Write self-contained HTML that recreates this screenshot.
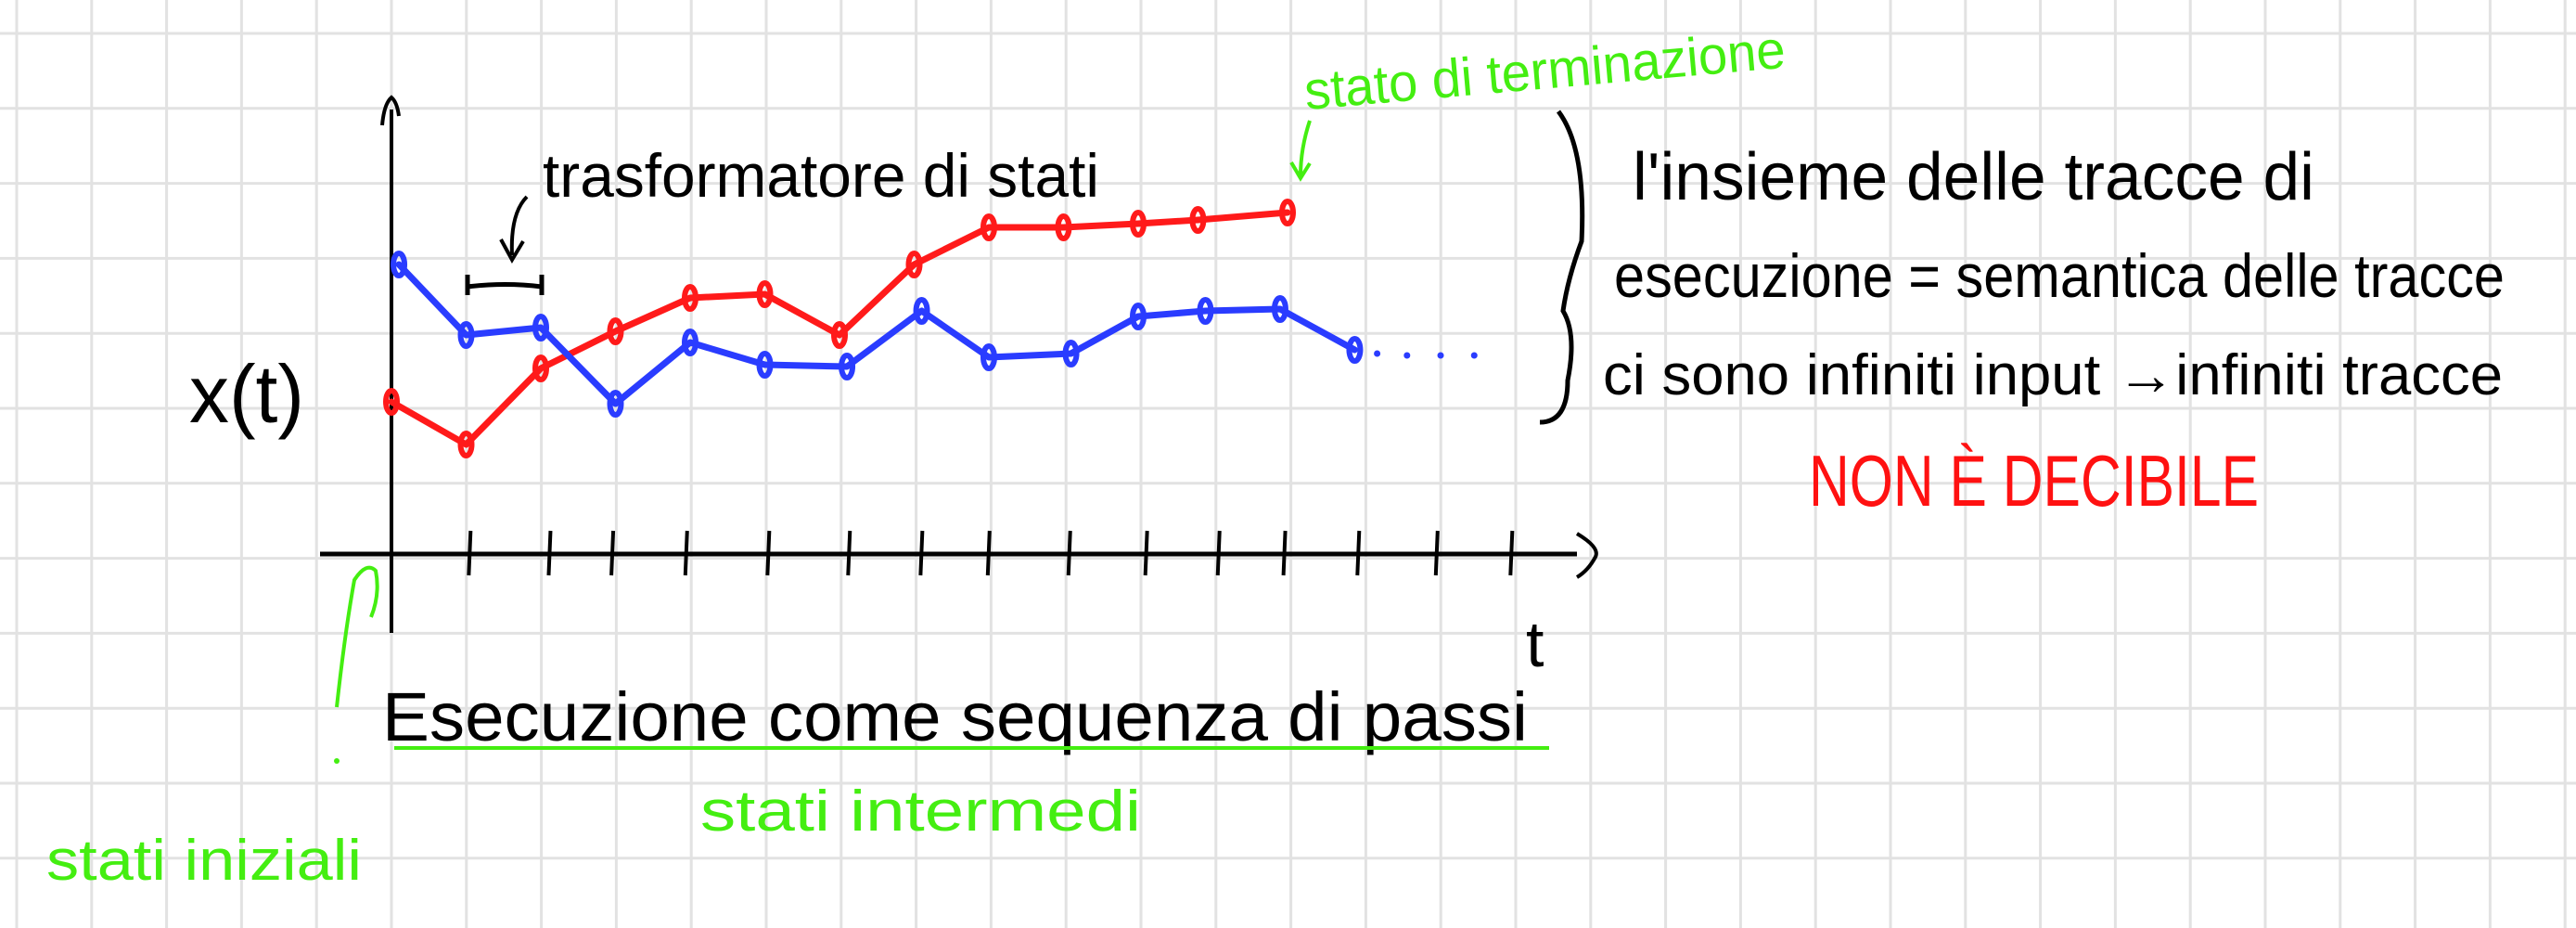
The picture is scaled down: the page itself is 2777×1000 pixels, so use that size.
<!DOCTYPE html>
<html><head><meta charset="utf-8"><style>
html,body{margin:0;padding:0;background:#fff}
svg{display:block}
text{font-family:"Liberation Sans Narrow","Liberation Sans",sans-serif}
</style></head><body>
<svg id="s" width="2777" height="1000" viewBox="0 0 2777 1000" xmlns="http://www.w3.org/2000/svg">
<g id="grid"></g>
<g id="chart">
  <line x1="422" y1="118" x2="422" y2="682" stroke="#000" stroke-width="4"/>
  <path d="M412 135 Q414 112 422 105 Q428 110 430 125" fill="none" stroke="#000" stroke-width="4"/>
  <line x1="345" y1="597" x2="1700" y2="597" stroke="#000" stroke-width="5"/>
  <path d="M1700 575 Q1725 590 1720 600 Q1712 615 1700 622" fill="none" stroke="#000" stroke-width="4"/>
  <g id="ticks"></g>
  <g id="series"></g>
  <text x="204" y="455" font-size="88" textLength="124" lengthAdjust="spacingAndGlyphs">x(t)</text>
  <text x="1645" y="718" font-size="70">t</text>
</g>
<g>
  <text x="585" y="212" font-size="66" textLength="600" lengthAdjust="spacingAndGlyphs">trasformatore di stati</text>
  <path d="M568 212 Q550 230 552 275 M540 258 L552 280 L564 260" fill="none" stroke="#000" stroke-width="4"/>
  <path d="M504 296 L504 318 M504 309 Q545 304 584 309 M584 296 L584 318" fill="none" stroke="#000" stroke-width="5"/>
  <text x="1408" y="118" font-size="58" fill="#44ee11" textLength="520" lengthAdjust="spacingAndGlyphs" transform="rotate(-5 1408 118)">stato di terminazione</text>
  <path d="M1412 130 Q1402 160 1402 190 M1392 175 L1402 192 L1412 176" fill="none" stroke="#44ee11" stroke-width="4"/>
  <path d="M1680 120 Q1710 160 1705 260 Q1690 300 1685 335 Q1700 360 1690 410 Q1690 455 1660 455" fill="none" stroke="#000" stroke-width="5"/>
  <text x="1760" y="215" font-size="72" textLength="735" lengthAdjust="spacingAndGlyphs">l'insieme delle tracce di</text>
  <text x="1740" y="320" font-size="66" textLength="960" lengthAdjust="spacingAndGlyphs">esecuzione = semantica delle tracce</text>
  <text x="1728" y="425" font-size="62" textLength="970" lengthAdjust="spacingAndGlyphs">ci sono infiniti input →infiniti tracce</text>
  <text x="1950" y="545" font-size="78" fill="#ff1111" textLength="485" lengthAdjust="spacingAndGlyphs">NON È DECIBILE</text>
  <text x="412" y="798" font-size="74" textLength="1235" lengthAdjust="spacingAndGlyphs">Esecuzione come sequenza di passi</text>
  <line x1="425" y1="806" x2="1670" y2="806" stroke="#44ee11" stroke-width="4"/>
  <text x="755" y="895" font-size="62" fill="#44ee11" textLength="475" lengthAdjust="spacingAndGlyphs">stati intermedi</text>
  <text x="50" y="948" font-size="62" fill="#44ee11" textLength="340" lengthAdjust="spacingAndGlyphs">stati iniziali</text>
  <path d="M363 762 Q372 680 382 625 Q395 605 405 615 Q410 640 400 665" fill="none" stroke="#44ee11" stroke-width="4"/>
  <circle cx="363" cy="820" r="3" fill="#44ee11"/>
</g>
</svg>
<script>
const tickT = [1.06,2.13,2.97,3.96,5.06,6.14,7.11,8.01,9.09,10.12,11.09,11.97,12.96,14.01,15.01];
const redT = [0,1,2,3,4,5,6,7,8,9,10,10.8,12];
const redV = [4.1,2.95,5.0,6.0,6.9,7.0,5.9,7.8,8.8,8.8,8.9,9.0,9.2];
const blueT = [0.1,1,2,3,4,5,6.1,7.1,8,9.1,10,10.9,11.9,12.9];
const blueV = [7.8,5.9,6.1,4.05,5.7,5.1,5.05,6.55,5.3,5.4,6.4,6.55,6.6,5.5];
const dotsT = [13.2,13.6,14.05,14.5];
const dotsV = [5.4,5.35,5.35,5.35];
const NS='http://www.w3.org/2000/svg';
const xS=t=>422+t*80.5, yS=v=>597-v*40;
function mk(tag,attrs,parent){const e=document.createElementNS(NS,tag);for(const k in attrs)e.setAttribute(k,attrs[k]);parent.appendChild(e);return e;}
const grid=document.getElementById('grid');
for(let x=18;x<2777;x+=80.8){const l=mk('line',{x1:x,y1:0,x2:x,y2:1000,stroke:'#e2e2e2','stroke-width':3},grid);

}
for(let y=36;y<1000;y+=80.8){const l=mk('line',{x1:0,y1:y,x2:2777,y2:y,stroke:'#e2e2e2','stroke-width':3},grid);

}
const ticks=document.getElementById('ticks');
tickT.forEach(t=>{const l=mk('line',{x1:xS(t),y1:572,x2:xS(t)-2,y2:620,stroke:'#000','stroke-width':4},ticks);

});
const ser=document.getElementById('series');
function series(T,V,color,name){
  const pts=T.map((t,i)=>xS(t)+','+yS(V[i])).join(' ');
  const pl=mk('polyline',{points:pts,fill:'none',stroke:color,'stroke-width':7,'stroke-linejoin':'round','stroke-linecap':'round'},ser);
  
  
  T.forEach((t,i)=>{const e=mk('ellipse',{cx:xS(t),cy:yS(V[i]),rx:6,ry:12,fill:'none',stroke:color,'stroke-width':6},ser);
  
  });
}
series(redT,redV,'#ff1a1a','red');
series(blueT,blueV,'#2a3cff','blue');
dotsT.forEach((t,i)=>{const c=mk('circle',{cx:xS(t),cy:yS(dotsV[i]),r:3.5,fill:'#2a3cff'},ser);

});
</script>
</body></html>
